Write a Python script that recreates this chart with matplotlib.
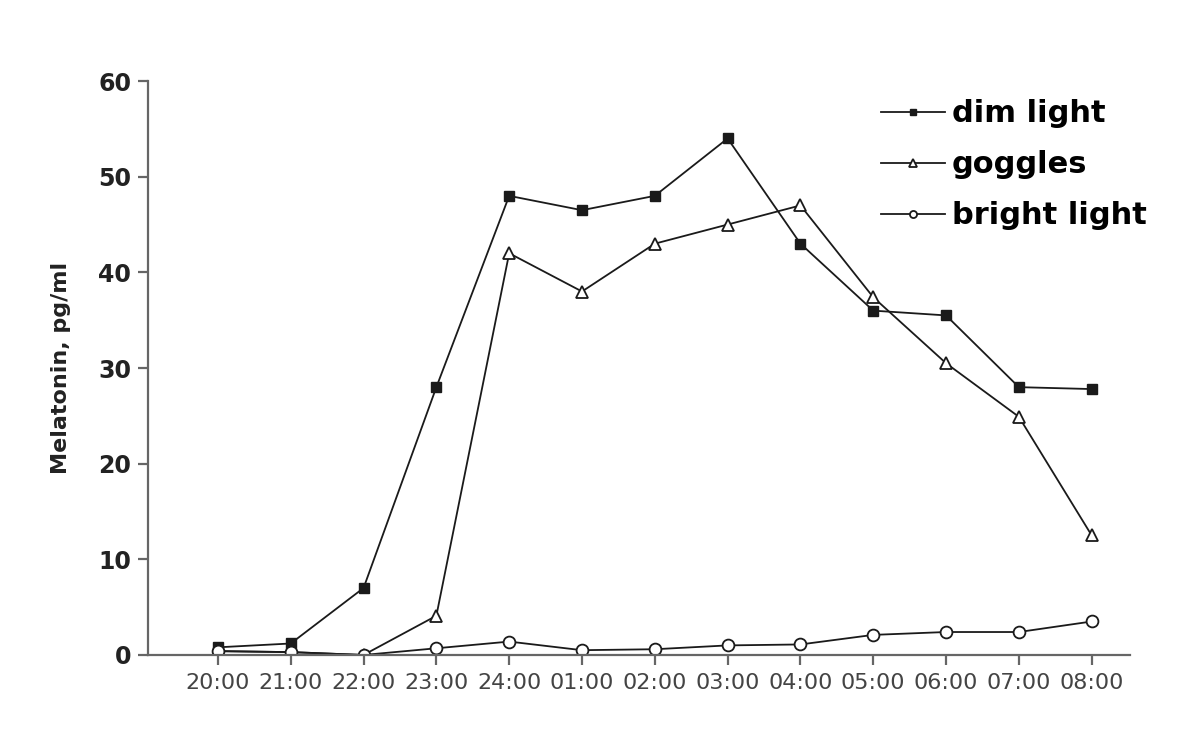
import matplotlib
matplotlib.use("Agg")
import matplotlib.pyplot as plt
import numpy as np

hours = ["20:00", "21:00", "22:00", "23:00", "24:00", "01:00", "02:00",
         "03:00", "04:00", "05:00", "06:00", "07:00", "08:00"]
dim_light = [0.8, 1.2, 7.0, 28.0, 48.0, 46.5, 48.0, 54.0, 43.0, 36.0, 35.5, 28.0, 27.8]
goggles = [0.4, 0.3, 0.0, 4.1, 42.0, 38.0, 43.0, 45.0, 47.0, 37.4, 30.5, 24.9, 12.5]
bright_light = [0.4, 0.3, 0.0, 0.7, 1.4, 0.5, 0.6, 1.0, 1.1, 2.1, 2.4, 2.4, 3.5]

line_col = "#1a1a1a"
axis_col = "#666666"

fig = plt.figure(figsize=(11.89, 7.37), dpi=100)
ax = fig.add_axes([0.1245, 0.1113, 0.8255, 0.7787])

x = np.arange(len(hours))
ax.plot(x, dim_light, color=line_col, lw=1.3, marker="s", ms=7.5,
        mfc=line_col, mec=line_col, label="dim light")
ax.plot(x, goggles, color=line_col, lw=1.3, marker="^", ms=9,
        mfc="white", mec=line_col, mew=1.3, label="goggles")
ax.plot(x, bright_light, color=line_col, lw=1.3, marker="o", ms=8.5,
        mfc="white", mec=line_col, mew=1.3, label="bright light")

ax.set_xlim(-0.96, 12.52)
ax.set_ylim(0, 60)
ax.set_xticks(x)
ax.set_xticklabels(hours, fontsize=16, color="#444444")
ax.set_yticks(range(0, 61, 10))
ax.set_yticklabels([str(v) for v in range(0, 61, 10)],
                   fontsize=17, fontweight="bold", color="#222222")

for side in ["top", "right"]:
    ax.spines[side].set_visible(False)
for side in ["left", "bottom"]:
    ax.spines[side].set_color(axis_col)
    ax.spines[side].set_linewidth(1.6)
ax.tick_params(axis="both", direction="out", length=7, width=1.6, color=axis_col)
ax.tick_params(axis="x", pad=6)
ax.tick_params(axis="y", pad=5)

ax.set_ylabel("Melatonin, pg/ml", fontsize=16, fontweight="bold",
              color="#222222", labelpad=20)

ax.legend(loc="upper left", bbox_to_anchor=(866 / 1189, 1 - 84 / 737),
          bbox_transform=fig.transFigure, frameon=False, markerscale=0.6,
          handlelength=2.1, handletextpad=0.2, labelspacing=0.72,
          borderpad=0, prop={"size": 22, "weight": "bold"})

plt.savefig("out.png", dpi=100)
